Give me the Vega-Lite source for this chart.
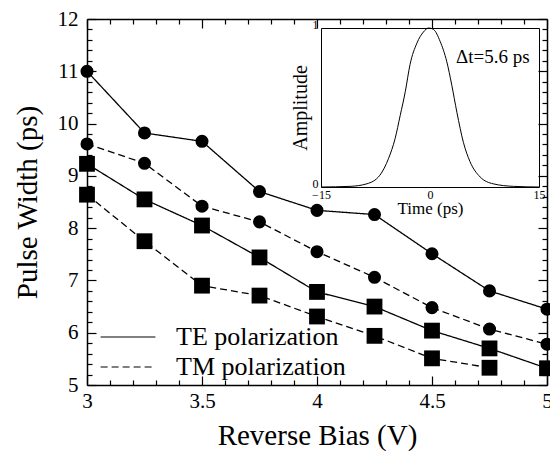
{
  "$schema": "https://vega.github.io/schema/vega-lite/v6.json",
  "width": 460,
  "height": 366,
  "autosize": {"type": "none"},
  "padding": {"left": 87, "top": 19, "right": 3, "bottom": 75},
  "background": "white",
  "config": {
    "font": "Liberation Serif",
    "view": {"stroke": null},
    "axis": {"grid": false, "domainColor": "black", "domainWidth": 1.5, "tickColor": "black", "tickWidth": 1.2, "labelColor": "black", "titleColor": "black", "labelFont": "Liberation Serif", "titleFont": "Liberation Serif", "titleFontWeight": "normal", "labelFlush": false, "labelOverlap": false},
    "legend": {"labelFont": "Liberation Serif", "titleFont": "Liberation Serif"}
  },
  "datasets": {
    "main": [
      {"v": 3, "w": 11.0, "pol": "TE polarization", "marker": "circle", "series": "TE circle"},
      {"v": 3.25, "w": 9.82, "pol": "TE polarization", "marker": "circle", "series": "TE circle"},
      {"v": 3.5, "w": 9.66, "pol": "TE polarization", "marker": "circle", "series": "TE circle"},
      {"v": 3.75, "w": 8.7, "pol": "TE polarization", "marker": "circle", "series": "TE circle"},
      {"v": 4, "w": 8.34, "pol": "TE polarization", "marker": "circle", "series": "TE circle"},
      {"v": 4.25, "w": 8.26, "pol": "TE polarization", "marker": "circle", "series": "TE circle"},
      {"v": 4.5, "w": 7.51, "pol": "TE polarization", "marker": "circle", "series": "TE circle"},
      {"v": 4.75, "w": 6.8, "pol": "TE polarization", "marker": "circle", "series": "TE circle"},
      {"v": 5, "w": 6.45, "pol": "TE polarization", "marker": "circle", "series": "TE circle"},
      {"v": 3, "w": 9.61, "pol": "TM polarization", "marker": "circle", "series": "TM circle"},
      {"v": 3.25, "w": 9.24, "pol": "TM polarization", "marker": "circle", "series": "TM circle"},
      {"v": 3.5, "w": 8.42, "pol": "TM polarization", "marker": "circle", "series": "TM circle"},
      {"v": 3.75, "w": 8.12, "pol": "TM polarization", "marker": "circle", "series": "TM circle"},
      {"v": 4, "w": 7.55, "pol": "TM polarization", "marker": "circle", "series": "TM circle"},
      {"v": 4.25, "w": 7.06, "pol": "TM polarization", "marker": "circle", "series": "TM circle"},
      {"v": 4.5, "w": 6.48, "pol": "TM polarization", "marker": "circle", "series": "TM circle"},
      {"v": 4.75, "w": 6.07, "pol": "TM polarization", "marker": "circle", "series": "TM circle"},
      {"v": 5, "w": 5.78, "pol": "TM polarization", "marker": "circle", "series": "TM circle"},
      {"v": 3, "w": 9.23, "pol": "TE polarization", "marker": "square", "series": "TE square"},
      {"v": 3.25, "w": 8.55, "pol": "TE polarization", "marker": "square", "series": "TE square"},
      {"v": 3.5, "w": 8.05, "pol": "TE polarization", "marker": "square", "series": "TE square"},
      {"v": 3.75, "w": 7.44, "pol": "TE polarization", "marker": "square", "series": "TE square"},
      {"v": 4, "w": 6.78, "pol": "TE polarization", "marker": "square", "series": "TE square"},
      {"v": 4.25, "w": 6.5, "pol": "TE polarization", "marker": "square", "series": "TE square"},
      {"v": 4.5, "w": 6.04, "pol": "TE polarization", "marker": "square", "series": "TE square"},
      {"v": 4.75, "w": 5.7, "pol": "TE polarization", "marker": "square", "series": "TE square"},
      {"v": 5, "w": 5.32, "pol": "TE polarization", "marker": "square", "series": "TE square"},
      {"v": 3, "w": 8.64, "pol": "TM polarization", "marker": "square", "series": "TM square"},
      {"v": 3.25, "w": 7.75, "pol": "TM polarization", "marker": "square", "series": "TM square"},
      {"v": 3.5, "w": 6.9, "pol": "TM polarization", "marker": "square", "series": "TM square"},
      {"v": 3.75, "w": 6.71, "pol": "TM polarization", "marker": "square", "series": "TM square"},
      {"v": 4, "w": 6.31, "pol": "TM polarization", "marker": "square", "series": "TM square"},
      {"v": 4.25, "w": 5.94, "pol": "TM polarization", "marker": "square", "series": "TM square"},
      {"v": 4.5, "w": 5.51, "pol": "TM polarization", "marker": "square", "series": "TM square"},
      {"v": 4.75, "w": 5.33, "pol": "TM polarization", "marker": "square", "series": "TM square"}
    ],
    "frame1": [{"v": 3, "w": 5}, {"v": 5, "w": 12}],
    "frame2": [{"v": 3, "w": 5}, {"v": 5, "w": 12}],
    "frame3": [{"v": 3, "w": 5}, {"v": 5, "w": 12}],
    "frame4": [{"v": 3, "w": 5}, {"v": 5, "w": 12}],
    "pulse": [
      {"t": -15, "a": 0}, {"t": -11, "a": 0.004}, {"t": -8.7, "a": 0.02}, {"t": -6.9, "a": 0.074},
      {"t": -5.7, "a": 0.18}, {"t": -4.8, "a": 0.305}, {"t": -4.1, "a": 0.45}, {"t": -3.4, "a": 0.6},
      {"t": -2.75, "a": 0.77}, {"t": -1.8, "a": 0.905}, {"t": -0.9, "a": 0.975}, {"t": -0.2, "a": 1.0},
      {"t": 0.5, "a": 0.99}, {"t": 1.4, "a": 0.915}, {"t": 2.3, "a": 0.79}, {"t": 3.0, "a": 0.64},
      {"t": 3.7, "a": 0.47}, {"t": 4.6, "a": 0.28}, {"t": 5.5, "a": 0.16}, {"t": 6.9, "a": 0.063},
      {"t": 8.7, "a": 0.02}, {"t": 11.5, "a": 0.004}, {"t": 15, "a": 0}
    ],
    "note": [{"t": 13.7, "a": 0.78, "label": "Δt=5.6 ps"}]
  },
  "layer": [
    {
      "data": {"name": "main"},
      "mark": {"type": "line", "color": "black", "strokeWidth": 1.3},
      "encoding": {
        "x": {"field": "v", "type": "quantitative", "scale": {"domain": [3, 5], "nice": false, "zero": false},
          "axis": {"orient": "bottom", "title": "Reverse Bias (V)", "titleFontSize": 29, "titlePadding": 10,
            "values": [3, 3.5, 4, 4.5, 5], "labelExpr": "'' + datum.value", "ticks": false,
            "labelFontSize": 21, "labelPadding": 5, "labelBaseline": "top"}},
        "y": {"field": "w", "type": "quantitative", "scale": {"domain": [5, 12], "nice": false, "zero": false},
          "axis": {"orient": "left", "title": "Pulse Width (ps)", "titleFontSize": 29, "titlePadding": 15,
            "values": [5, 6, 7, 8, 9, 10, 11, 12], "labelExpr": "'' + datum.value", "ticks": false,
            "labelFontSize": 21, "labelPadding": 9}},
        "detail": {"field": "series"},
        "strokeDash": {"field": "pol", "type": "nominal",
          "scale": {"domain": ["TE polarization", "TM polarization"], "range": [[1, 0], [7, 4]]},
          "legend": {"title": null, "orient": "bottom-left", "offset": 5, "symbolOffset": 8, "symbolType": "stroke", "symbolSize": 3000,
            "symbolStrokeColor": "black", "symbolStrokeWidth": 1.2, "labelFontSize": 26, "labelFont": "Liberation Serif", "labelLimit": 400,
            "labelColor": "black", "labelOffset": 20, "clipHeight": 24, "rowPadding": 4, "padding": 0}}
      }
    },
    {
      "data": {"name": "main"},
      "mark": {"type": "point", "filled": true, "color": "black", "opacity": 1},
      "encoding": {
        "x": {"field": "v", "type": "quantitative", "scale": {"domain": [3, 5], "nice": false, "zero": false}, "axis": null},
        "y": {"field": "w", "type": "quantitative", "scale": {"domain": [5, 12], "nice": false, "zero": false}, "axis": null},
        "shape": {"field": "marker", "type": "nominal", "scale": {"domain": ["circle", "square"], "range": ["circle", "square"]}, "legend": null},
        "size": {"field": "marker", "type": "nominal", "scale": {"domain": ["circle", "square"], "range": [170, 250]}, "legend": null}
      }
    },
    {
      "data": {"name": "frame1"},
      "mark": {"type": "text", "text": ""},
      "encoding": {
        "x": {"field": "v", "type": "quantitative", "scale": {"domain": [3, 5], "nice": false, "zero": false},
          "axis": {"orient": "top", "offset": -366, "title": null, "labels": false, "domain": false, "tickSize": 9,
            "values": [3, 3.5, 4, 4.5, 5]}},
        "y": {"field": "w", "type": "quantitative", "scale": {"domain": [5, 12], "nice": false, "zero": false},
          "axis": {"orient": "right", "offset": -460, "title": null, "labels": false, "domain": false, "tickSize": 9,
            "values": [5, 6, 7, 8, 9, 10, 11, 12]}}
      }
    },
    {
      "data": {"name": "frame2"},
      "mark": {"type": "text", "text": ""},
      "encoding": {
        "x": {"field": "v", "type": "quantitative", "scale": {"domain": [3, 5], "nice": false, "zero": false},
          "axis": {"orient": "top", "offset": -366, "title": null, "labels": false, "domain": false, "tickSize": 5,
            "values": [3.1, 3.2, 3.3, 3.4, 3.6, 3.7, 3.8, 3.9, 4.1, 4.2, 4.3, 4.4, 4.6, 4.7, 4.8, 4.9]}},
        "y": {"field": "w", "type": "quantitative", "scale": {"domain": [5, 12], "nice": false, "zero": false},
          "axis": {"orient": "right", "offset": -460, "title": null, "labels": false, "domain": false, "tickSize": 5,
            "values": [5.2, 5.4, 5.6, 5.8, 6.2, 6.4, 6.6, 6.8, 7.2, 7.4, 7.6, 7.8, 8.2, 8.4, 8.6, 8.8, 9.2, 9.4, 9.6, 9.8, 10.2, 10.4, 10.6, 10.8, 11.2, 11.4, 11.6, 11.8]}}
      }
    },
    {
      "data": {"name": "frame3"},
      "mark": {"type": "text", "text": ""},
      "encoding": {
        "x": {"field": "v", "type": "quantitative", "scale": {"domain": [3, 5], "nice": false, "zero": false},
          "axis": {"orient": "bottom", "offset": -366, "title": null, "labels": false, "tickSize": 9, "values": [3, 3.5, 4, 4.5, 5]}},
        "y": {"field": "w", "type": "quantitative", "scale": {"domain": [5, 12], "nice": false, "zero": false},
          "axis": {"orient": "left", "offset": -460, "title": null, "labels": false, "tickSize": 9, "values": [5, 6, 7, 8, 9, 10, 11, 12]}}
      }
    },
    {
      "data": {"name": "frame4"},
      "mark": {"type": "text", "text": ""},
      "encoding": {
        "x": {"field": "v", "type": "quantitative", "scale": {"domain": [3, 5], "nice": false, "zero": false},
          "axis": {"orient": "bottom", "offset": -366, "title": null, "labels": false, "domain": false, "tickSize": 5,
            "values": [3.1, 3.2, 3.3, 3.4, 3.6, 3.7, 3.8, 3.9, 4.1, 4.2, 4.3, 4.4, 4.6, 4.7, 4.8, 4.9]}},
        "y": {"field": "w", "type": "quantitative", "scale": {"domain": [5, 12], "nice": false, "zero": false},
          "axis": {"orient": "left", "offset": -460, "title": null, "labels": false, "domain": false, "tickSize": 5,
            "values": [5.2, 5.4, 5.6, 5.8, 6.2, 6.4, 6.6, 6.8, 7.2, 7.4, 7.6, 7.8, 8.2, 8.4, 8.6, 8.8, 9.2, 9.4, 9.6, 9.8, 10.2, 10.4, 10.6, 10.8, 11.2, 11.4, 11.6, 11.8]}}
      }
    },
    {
      "data": {"name": "pulse"},
      "mark": {"type": "line", "color": "black", "strokeWidth": 1, "interpolate": "monotone"},
      "encoding": {
        "x": {"field": "t", "type": "quantitative", "scale": {"domain": [-15, 15], "range": [234, 452], "nice": false, "zero": false},
          "axis": {"orient": "bottom", "offset": -198, "values": [-15, 0, 15], "ticks": false, "labelFontSize": 12, "labelPadding": 2,
            "labelBaseline": "top", "domainWidth": 1, "title": "Time (ps)", "titleFontSize": 17, "titlePadding": 0}},
        "y": {"field": "a", "type": "quantitative", "scale": {"domain": [0, 1], "range": [168, 9], "nice": false, "zero": false},
          "axis": {"orient": "left", "offset": -234, "values": [0, 1], "format": "d", "ticks": false, "labelFontSize": 12, "labelPadding": 3,
            "labelBaseline": "alphabetic", "domainWidth": 1, "title": "Amplitude", "titleFontSize": 20, "titlePadding": 2}}
      }
    },
    {
      "data": {"name": "note"},
      "mark": {"type": "text", "align": "right", "baseline": "alphabetic", "fontSize": 19, "font": "Liberation Serif", "color": "black"},
      "encoding": {
        "x": {"field": "t", "type": "quantitative", "scale": {"domain": [-15, 15], "range": [234, 452], "nice": false, "zero": false},
          "axis": {"orient": "top", "offset": -9, "labels": false, "ticks": false, "title": null, "domainWidth": 1}},
        "y": {"field": "a", "type": "quantitative", "scale": {"domain": [0, 1], "range": [168, 9], "nice": false, "zero": false},
          "axis": {"orient": "right", "offset": -8, "labels": false, "ticks": false, "title": null, "domainWidth": 1}},
        "text": {"field": "label"}
      }
    }
  ],
  "resolve": {"scale": {"x": "independent", "y": "independent"}, "axis": {"x": "independent", "y": "independent"}}
}
